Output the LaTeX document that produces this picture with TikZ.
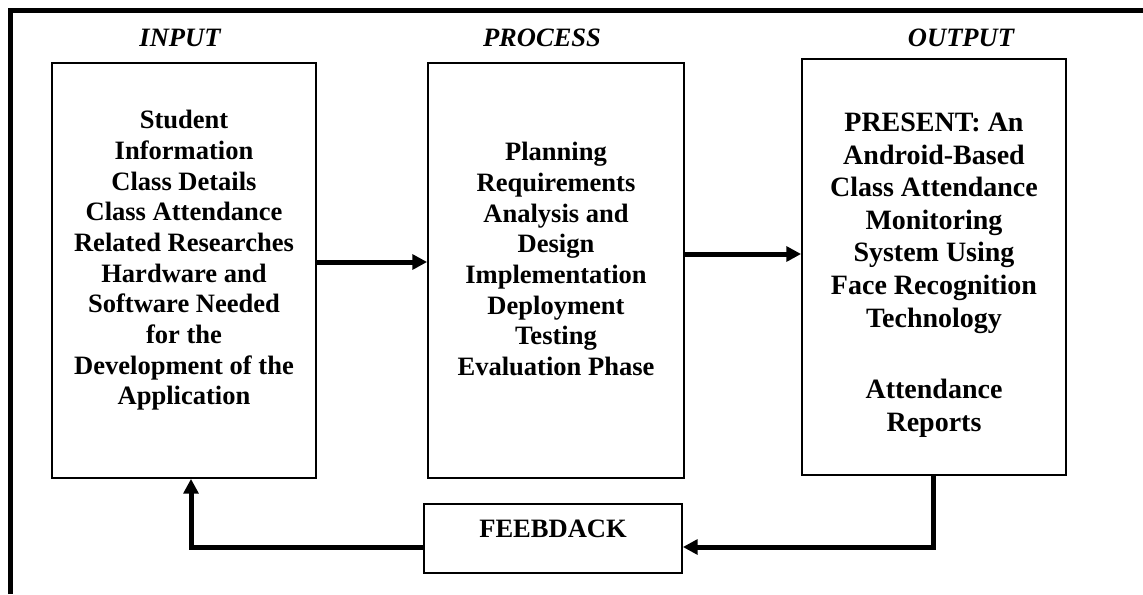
\documentclass[tikz,border=0pt]{standalone}
\usepackage{fontspec}
\setmainfont{Liberation Serif}
\usetikzlibrary{arrows.meta,calc}
\begin{document}
\begin{tikzpicture}[x=0.75pt,y=-0.75pt,
  box/.style={draw=black,line width=1.3pt,inner sep=0pt},
  boxtext/.style={align=center,inner sep=0pt,anchor=north,font=\fontsize{19.9}{23}\selectfont\bfseries},
  title/.style={inner sep=0pt,anchor=base,font=\fontsize{19.9}{23}\selectfont\bfseries\itshape},
  arr/.style={line width=3.75pt,-{Triangle[length=11pt,width=11pt]}},
  thickline/.style={line width=3.75pt}]
\useasboundingbox (0,0) rectangle (1143,594);
% outer frame
\coordinate (fa) at (10,594);
\coordinate (fb) at (10,10);
\coordinate (fc) at (1143,10);
\draw[thickline] (fa) -- (fb) -- (fc);
% titles
\node[title] (tin) at (180,46) {INPUT};
\node[title] (tproc) at (542,46) {PROCESS};
\node[title] (tout) at (961,46) {OUTPUT};
% boxes
\node[box,minimum width=264*0.75pt,minimum height=415*0.75pt] (inbox) at (184,270.5) {};
\node[box,minimum width=256*0.75pt,minimum height=415*0.75pt] (procbox) at (556,270.5) {};
\node[box,minimum width=264*0.75pt,minimum height=416*0.75pt] (outbox) at (934,267) {};
\node[box,minimum width=258*0.75pt,minimum height=69*0.75pt] (fbbox) at (553,538.5) {};
% texts
\node[boxtext] (intext) at (184,110) {Student\\Information\\Class Details\\Class Attendance\\Related Researches\\Hardware and\\Software Needed\\for the\\Development of the\\Application};
\node[boxtext] (proctext) at (556,142) {Planning\\Requirements\\Analysis and\\Design\\Implementation\\Deployment\\Testing\\Evaluation Phase};
\node[boxtext,font=\fontsize{21}{24.4}\selectfont\bfseries] (outtext) at (934,113) {PRESENT: An\\Android-Based\\Class Attendance\\Monitoring\\System Using\\Face Recognition\\Technology\\[29.5pt]Attendance\\Reports};
\node[title,font=\fontsize{19.9}{23}\selectfont\bfseries] (fbtext) at (553,537) {FEEBDACK};
% arrows
\coordinate (y1) at (0,262);
\coordinate (y2) at (0,254);
\coordinate (y3) at (0,547);
\coordinate (x3) at (933,0);
\coordinate (x4) at (191,0);
\draw[arr] (inbox.east |- y1) -- (procbox.west |- y1);
\draw[arr] (procbox.east |- y2) -- (outbox.west |- y2);
\draw[arr] (outbox.south -| x3) -- (x3 |- y3) -- (fbbox.east |- y3);
\draw[arr] (fbbox.west |- y3) -- (x4 |- y3) -- (inbox.south -| x4);
\end{tikzpicture}
\end{document}
